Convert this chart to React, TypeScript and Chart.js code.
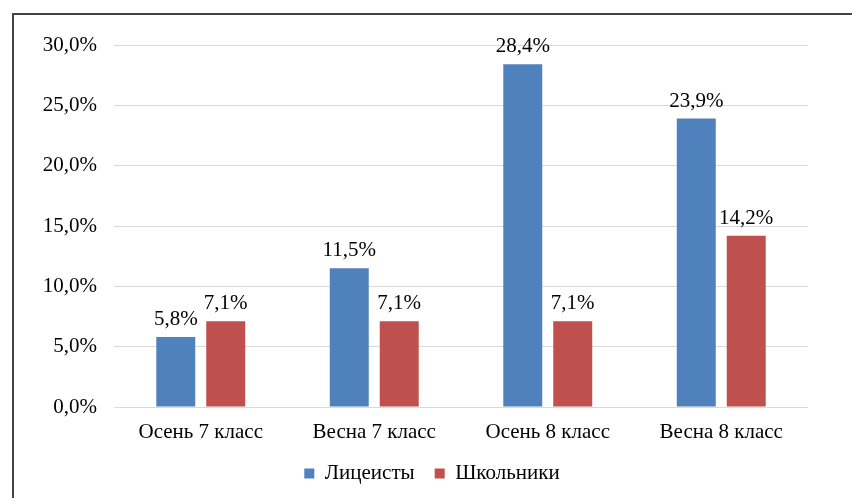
import React, { useEffect, useRef } from "react";
import { Chart, registerables } from "chart.js";

Chart.register(...registerables);

const categories = ["Осень 7 класс", "Весна 7 класс", "Осень 8 класс", "Весна 8 класс"];
const lyceumValues = [5.8, 11.5, 28.4, 23.9];
const schoolValues = [7.1, 7.1, 7.1, 14.2];
const seriesNames = ["Лицеисты", "Школьники"];
const seriesColors = ["#4F81BD", "#C0504D"];

const FONT = "'Liberation Serif', 'Times New Roman', serif";
const fmt = (v: number) => v.toFixed(1).replace(".", ",") + "%";

const framePlugin = {
  id: "frame",
  beforeDraw(chart: any) {
    const ctx = chart.ctx;
    ctx.save();
    ctx.strokeStyle = "#444444";
    ctx.lineWidth = 2;
    ctx.beginPath();
    ctx.moveTo(13, 498);
    ctx.lineTo(13, 14);
    ctx.lineTo(852, 14);
    ctx.stroke();
    ctx.restore();
  },
};

const labelPlugin = {
  id: "valueLabels",
  afterDatasetsDraw(chart: any) {
    const ctx = chart.ctx;
    ctx.save();
    ctx.font = `21px ${FONT}`;
    ctx.fillStyle = "#000000";
    ctx.textAlign = "center";
    ctx.textBaseline = "alphabetic";
    chart.data.datasets.forEach((ds: any, i: number) => {
      const meta = chart.getDatasetMeta(i);
      meta.data.forEach((bar: any, j: number) => {
        ctx.fillText(fmt(ds.data[j]), bar.x, bar.y - 12);
      });
    });
    ctx.restore();
  },
};

export default function App() {
  const ref = useRef<HTMLCanvasElement | null>(null);
  useEffect(() => {
    if (!ref.current) return;
    const chart = new Chart(ref.current, {
      type: "bar",
      data: {
        labels: categories,
        datasets: [
          {
            label: seriesNames[0],
            data: lyceumValues,
            backgroundColor: seriesColors[0],
            categoryPercentage: 0.576,
            barPercentage: 0.78,
          },
          {
            label: seriesNames[1],
            data: schoolValues,
            backgroundColor: seriesColors[1],
            categoryPercentage: 0.576,
            barPercentage: 0.78,
          },
        ],
      },
      options: {
        animation: false,
        responsive: false,
        events: [],
        layout: { padding: { left: 12, right: 0, top: 45, bottom: 4 } },
        plugins: {
          tooltip: { enabled: false },
          legend: {
            position: "bottom",
            labels: {
              font: { family: FONT, size: 21 },
              color: "#000000",
              boxWidth: 10,
              boxHeight: 10,
              padding: 20,
            },
          },
        },
        scales: {
          x: {
            grid: { display: false, drawTicks: false },
            border: { display: false },
            ticks: { font: { family: FONT, size: 21 }, color: "#000000", padding: 13 },
            afterFit: (s: any) => { s.height = 36; },
          },
          y: {
            min: 0,
            max: 30,
            grid: { color: "#D9D9D9", lineWidth: 1, drawTicks: false },
            border: { display: false },
            ticks: {
              stepSize: 5,
              font: { family: FONT, size: 21 },
              color: "#000000",
              padding: 17,
              callback: (v: any) => fmt(Number(v)),
            },
            afterFit: (s: any) => { s.width = 102; },
          },
          yRight: {
            position: "right",
            grid: { display: false, drawTicks: false },
            border: { display: false },
            ticks: { display: false },
            afterFit: (s: any) => { s.width = 44; },
          },
        },
      },
      plugins: [framePlugin, labelPlugin],
    });
    return () => chart.destroy();
  }, []);
  return (
    <div style={{ position: "fixed", left: 0, top: 0, width: 852, height: 498, background: "#fff" }}>
      <canvas ref={ref} width={852} height={498} style={{ display: "block" }} />
    </div>
  );
}
